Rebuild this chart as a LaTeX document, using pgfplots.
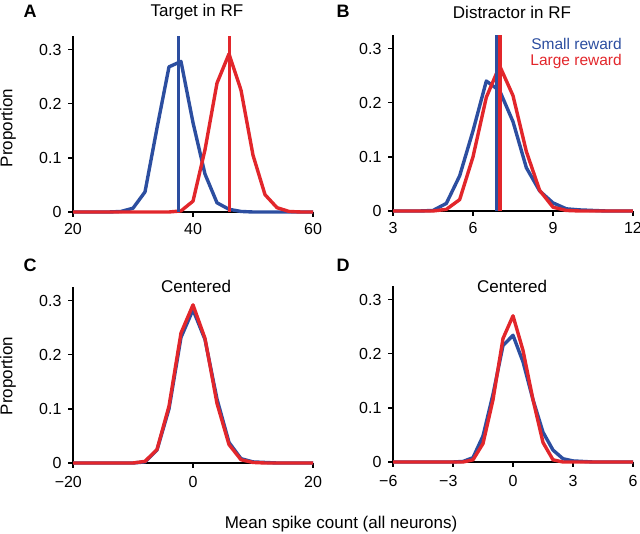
\documentclass[border=0pt]{standalone}
\usepackage{fontspec}
\setmainfont{Liberation Sans}
\usepackage{pgfplots}
\pgfplotsset{compat=1.18}
\usepackage{pgfplotstable}

\definecolor{smallb}{RGB}{44,78,160}
\definecolor{larger}{RGB}{226,38,43}

% proportions
\pgfplotstableread{
x y
20 0
22 0
24 0
26 0
28 0.001
30 0.007
32 0.037
34 0.155
36 0.268
38 0.278
40 0.165
42 0.07
44 0.017
46 0.005
48 0.001
50 0
52 0
54 0
56 0
58 0
60 0
}\tgtsmall
\pgfplotstableread{
x y
20 0
22 0
24 0
26 0
28 0
30 0
32 0
34 0
36 0
38 0.002
40 0.02
42 0.115
44 0.238
46 0.292
48 0.225
50 0.105
52 0.032
54 0.008
56 0.001
58 0
60 0
}\tgtlarge
\pgfplotstableread{
x y
3 0
3.5 0
4 0
4.5 0.001
5 0.014
5.5 0.065
6 0.148
6.5 0.24
7 0.222
7.5 0.165
8 0.08
8.5 0.037
9 0.015
9.5 0.004
10 0.002
10.5 0.001
11 0
11.5 0
12 0
}\dstsmall
\pgfplotstableread{
x y
3 0
3.5 0
4 0
4.5 0
5 0.003
5.5 0.021
6 0.1
6.5 0.21
7 0.268
7.5 0.213
8 0.11
8.5 0.038
9 0.007
9.5 0.001
10 0
10.5 0
11 0
11.5 0
12 0
}\dstlarge
\pgfplotstableread{
x y
-20 0
-18 0
-16 0
-14 0
-12 0
-10 0
-8 0.002
-6 0.024
-4 0.1
-2 0.232
0 0.283
2 0.228
4 0.118
6 0.038
8 0.008
10 0.002
12 0.001
14 0
16 0
18 0
20 0
}\ctasmall
\pgfplotstableread{
x y
-20 0
-18 0
-16 0
-14 0
-12 0
-10 0
-8 0.003
-6 0.025
-4 0.105
-2 0.24
0 0.292
2 0.23
4 0.11
6 0.034
8 0.006
10 0.001
12 0
14 0
16 0
18 0
20 0
}\ctalarge
\pgfplotstableread{
x y
-6 0
-5 0
-4 0
-3 0
-2.5 0.001
-2 0.008
-1.5 0.048
-1 0.125
-0.5 0.215
0 0.234
0.5 0.185
1 0.115
1.5 0.055
2 0.022
2.5 0.006
3 0.002
3.5 0.001
4 0
5 0
6 0
}\cdssmall
\pgfplotstableread{
x y
-6 0
-5 0
-4 0
-3 0
-2.5 0
-2 0.004
-1.5 0.034
-1 0.115
-0.5 0.228
0 0.27
0.5 0.206
1 0.115
1.5 0.036
2 0.004
2.5 0
3 0
4 0
5 0
6 0
}\cdslarge

\pgfplotsset{
  panel/.style={
    width=240bp, height=176bp, scale only axis,
    anchor=south west,
    axis x line*=bottom, axis y line*=left,
    axis line style={-, black, line width=1.6bp},
    tick align=outside, major tick length=5bp,
    tick style={black, line width=1.6bp},
    ymin=0, ymax=0.325,
    ytick={0,0.1,0.2,0.3}, yticklabels={0,0.1,0.2,0.3},
    ticklabel style={font=\fontsize{16bp}{18bp}\selectfont},
    yticklabel style={xshift=-3bp},
    clip=false, set layers,
  },
  smallc/.style={color=smallb, line width=3.4bp, line join=round},
  largec/.style={color=larger, line width=3.4bp, line join=round},
}

\begin{document}
\begin{tikzpicture}

\begin{axis}[panel, at={(73bp,322bp)}, xmin=20, xmax=60,
  xtick={20,40,60}, xticklabels={20,40,60},
  xticklabel style={yshift=-3bp}]
\addplot[smallc] table {\tgtsmall};
\addplot[largec] table {\tgtlarge};
\addplot[smallc] coordinates {(37.55,0) (37.55,0.325)};
\addplot[largec] coordinates {(46.05,0) (46.05,0.325)};
\end{axis}

\begin{axis}[panel, at={(393bp,323bp)}, xmin=3, xmax=12,
  xtick={3,6,9,12}, xticklabels={3,6,9,12},
  xticklabel style={yshift=-3bp}]
\addplot[smallc] table {\dstsmall};
\addplot[largec] table {\dstlarge};
\addplot[smallc] coordinates {(6.89,0) (6.89,0.325)};
\addplot[largec] coordinates {(7.01,0) (7.01,0.325)};
\end{axis}

\begin{axis}[panel, at={(73bp,71bp)}, xmin=-20, xmax=20,
  xtick={-20,0,20}, xticklabels={\llap{−}20,0,20},
  xticklabel style={yshift=-5bp}]
\addplot[smallc] table {\ctasmall};
\addplot[largec] table {\ctalarge};
\end{axis}

\begin{axis}[panel, at={(393bp,72bp)}, xmin=-6, xmax=6,
  xtick={-6,-3,0,3,6}, xticklabels={\llap{−}6,\llap{−}3,0,3,6},
  xticklabel style={yshift=-5bp}]
\addplot[smallc] table {\cdssmall};
\addplot[largec] table {\cdslarge};
\end{axis}

\begin{scope}[every node/.style={inner sep=0pt}]
\node[font=\fontsize{18bp}{20bp}\selectfont\bfseries] at (30bp,523bp) {A};
\node[font=\fontsize{18bp}{20bp}\selectfont\bfseries] at (343bp,523bp) {B};
\node[font=\fontsize{18bp}{20bp}\selectfont\bfseries] at (30bp,269bp) {C};
\node[font=\fontsize{18bp}{20bp}\selectfont\bfseries] at (343bp,269bp) {D};
\node[font=\fontsize{17bp}{20bp}\selectfont] at (197bp,522bp) {Target in RF};
\node[font=\fontsize{17bp}{20bp}\selectfont] at (512bp,522bp) {Distractor in RF};
\node[font=\fontsize{17bp}{20bp}\selectfont] at (196bp,248bp) {Centered};
\node[font=\fontsize{17bp}{20bp}\selectfont] at (512bp,248bp) {Centered};
\node[font=\fontsize{17bp}{20bp}\selectfont, rotate=90] at (8bp,406bp) {Proportion};
\node[font=\fontsize{17bp}{20bp}\selectfont, rotate=90] at (8bp,158bp) {Proportion};
\node[font=\fontsize{17bp}{20bp}\selectfont] at (341bp,10bp) {Mean spike count (all neurons)};
\node[font=\fontsize{15.5bp}{18bp}\selectfont, anchor=east, text=smallb] at (622bp,490bp) {Small reward};
\node[font=\fontsize{15.5bp}{18bp}\selectfont, anchor=east, text=larger] at (622bp,473bp) {Large reward};
\end{scope}
\pgfresetboundingbox
\path[use as bounding box] (0,0) rectangle (640bp,534bp);
\end{tikzpicture}
\end{document}
